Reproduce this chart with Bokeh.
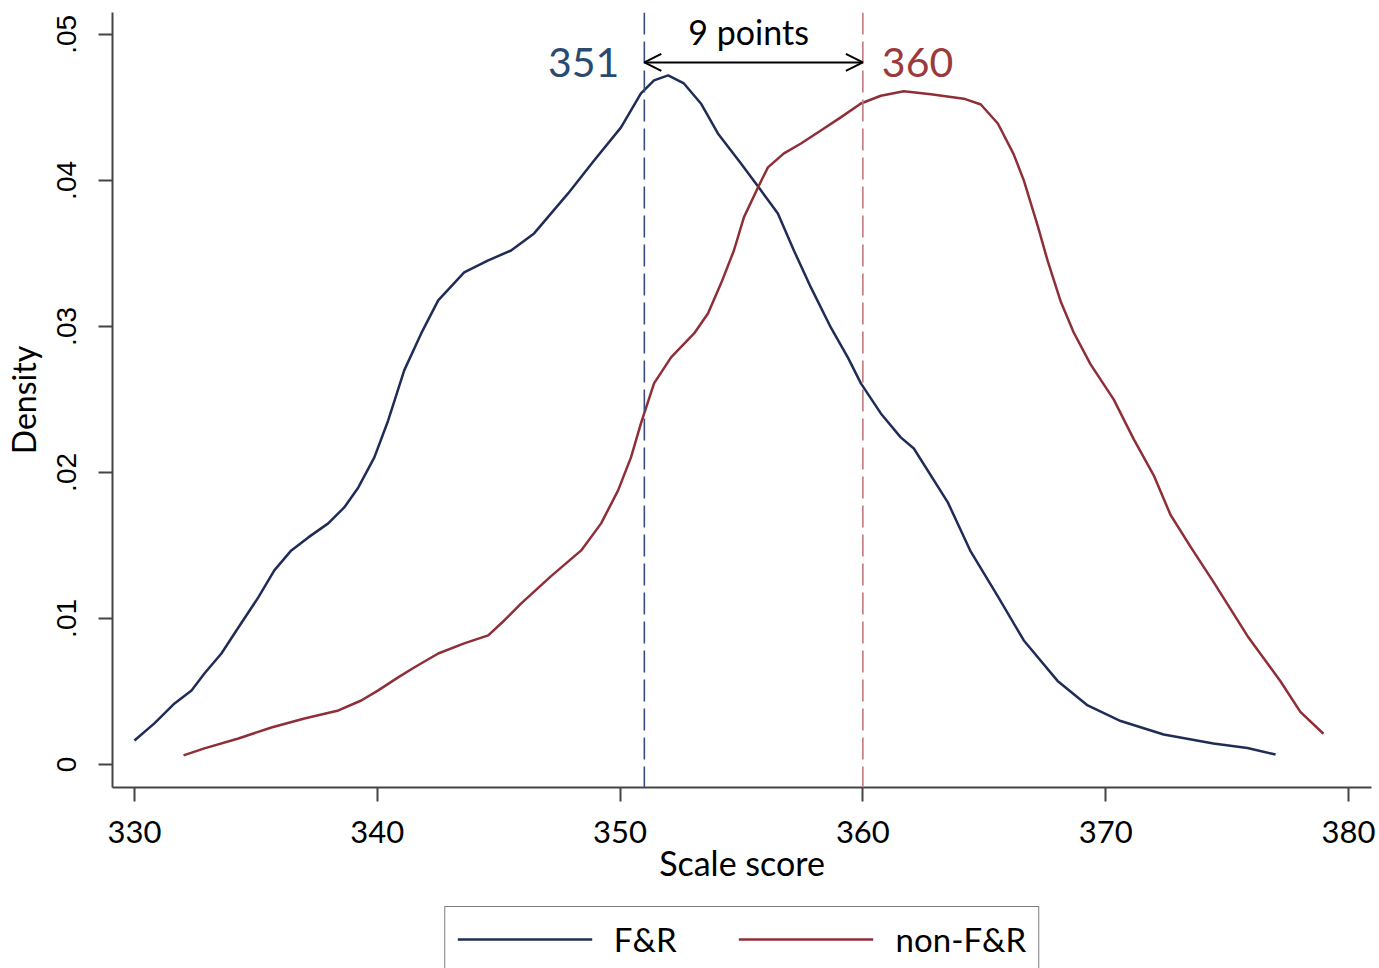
from bokeh.plotting import figure
from bokeh.layouts import column
from bokeh.models import (Range1d, Arrow, OpenHead, Span, Label, Legend, LegendItem,
                          FixedTicker, CustomJSTickFormatter)
from bokeh.embed import file_html
from bokeh.resources import INLINE

# Kernel density of scale scores, free & reduced lunch (F&R) students
fr_x = [330.0, 330.82, 331.65, 332.35, 332.88, 333.58, 334.28, 335.1, 335.76, 336.46,
        337.16, 337.98, 338.64, 339.22, 339.88, 340.45, 341.11, 341.81, 342.51, 343.58,
        344.57, 345.51, 346.46, 347.86, 348.93, 350.04, 350.86, 351.4, 351.98, 352.63,
        353.33, 354.03, 354.98, 355.8, 356.5, 357.16, 357.86, 358.68, 359.38, 359.92,
        360.74, 361.56, 362.1, 363.5, 364.44, 365.56, 366.63, 368.02, 369.26, 370.62,
        372.39, 374.44, 375.84, 377.0]
fr_y = [0.00164, 0.00281, 0.00418, 0.00507, 0.00623, 0.0076, 0.00938, 0.01144, 0.01329, 0.01466,
        0.01555, 0.01651, 0.0176, 0.01897, 0.02103, 0.02356, 0.02699, 0.02952, 0.03178, 0.0337,
        0.03452, 0.0352, 0.03637, 0.03911, 0.04137, 0.04363, 0.04596, 0.04685, 0.04719, 0.04664,
        0.04527, 0.04322, 0.04116, 0.03932, 0.03774, 0.0352, 0.03267, 0.02993, 0.02788, 0.0261,
        0.02404, 0.0224, 0.02164, 0.01795, 0.01459, 0.01151, 0.00849, 0.00572, 0.00404, 0.00297,
        0.00205, 0.00144, 0.00113, 0.00068]

# Kernel density of scale scores, all other students (non-F&R)
nfr_x = [332.02, 332.88, 334.28, 335.64, 337.0, 338.4, 339.34, 340.04, 340.86, 341.52,
         342.51, 343.58, 344.57, 345.23, 345.93, 347.16, 348.4, 349.22, 349.92, 350.45,
         350.86, 351.4, 352.1, 353.05, 353.62, 354.16, 354.69, 355.1, 355.68, 356.09,
         356.75, 357.45, 358.27, 359.09, 359.92, 360.74, 361.69, 362.8, 364.16, 364.86,
         365.56, 366.21, 366.63, 367.2, 367.61, 368.15, 368.68, 369.38, 370.33, 371.15,
         371.98, 372.67, 373.5, 374.44, 375.84, 377.2, 378.02, 378.97]
nfr_y = [0.00062, 0.0011, 0.00178, 0.00253, 0.00315, 0.0037, 0.00438, 0.00507, 0.00596, 0.00664,
         0.0076, 0.00829, 0.00884, 0.00986, 0.01103, 0.0129, 0.01466, 0.01651, 0.01877, 0.02103,
         0.02336, 0.0261, 0.02788, 0.02952, 0.03089, 0.03295, 0.0352, 0.03747, 0.03952, 0.04089,
         0.04185, 0.04253, 0.04342, 0.04432, 0.04527, 0.0458, 0.0461, 0.0459, 0.0456, 0.0452,
         0.0439, 0.0418, 0.0400, 0.0369, 0.0345, 0.0317, 0.0296, 0.0274, 0.025, 0.0223,
         0.0198, 0.0171, 0.0149, 0.0125, 0.0088, 0.0057, 0.0036, 0.0021]

group_names = ["F&R", "non-F&R"]
group_means = [351, 360]
x_ticks = [330, 340, 350, 360, 370, 380]
y_ticks = [0, 0.01, 0.02, 0.03, 0.04, 0.05]

curve_colors = ["#1f2d56", "#8e2f38"]
mean_line_colors = ["#3b4c80", "#c27a7e"]
mean_text_colors = ["#2b4a6f", "#9b3a3c"]
sans = "Lato"

p = figure(width=1379, height=905, output_backend="svg", toolbar_location=None,
           x_range=Range1d(329.095, 380.95), y_range=Range1d(-0.00158, 0.0515),
           min_border_left=111, min_border_right=8, min_border_top=12, min_border_bottom=118)
p.outline_line_color = None
p.grid.visible = False
p.background_fill_color = "white"
p.border_fill_color = "white"

p.line(fr_x, fr_y, line_color=curve_colors[0], line_width=2.5, line_join="round")
p.line(nfr_x, nfr_y, line_color=curve_colors[1], line_width=2.5, line_join="round")

# axes
for ax in (p.xaxis[0], p.yaxis[0]):
    ax.axis_line_color = "#444444"
    ax.axis_line_width = 2
    ax.major_tick_line_color = "#444444"
    ax.major_tick_line_width = 2
    ax.major_tick_out = 14
    ax.major_tick_in = 0
    ax.minor_tick_line_color = None
    ax.major_label_text_color = "black"
    ax.axis_label_text_color = "black"
    ax.axis_label_text_font_style = "normal"

p.xaxis.ticker = FixedTicker(ticks=x_ticks)
p.xaxis.major_label_text_font = sans
p.xaxis.major_label_text_font_size = "31px"
p.xaxis.major_label_standoff = 19
p.xaxis.axis_label = "Scale score"
p.xaxis.axis_label_text_font = sans
p.xaxis.axis_label_text_font_size = "34px"
p.xaxis.axis_label_standoff = -4

p.yaxis.ticker = FixedTicker(ticks=y_ticks)
p.yaxis.formatter = CustomJSTickFormatter(
    code="return tick == 0 ? '0' : tick.toFixed(2).replace(/^0/, '');")
p.yaxis.major_label_orientation = "vertical"
p.yaxis.major_label_text_font = "Liberation Sans"
p.yaxis.major_label_text_font_size = "28px"
p.yaxis.major_label_standoff = 22
p.yaxis.axis_label = "Density"
p.yaxis.axis_label_text_font = sans
p.yaxis.axis_label_text_font_size = "32px"
p.yaxis.axis_label_standoff = 12

# group means: dashed verticals and value labels
arrow_y = 0.04808
for i, m in enumerate(group_means):
    p.add_layout(Span(location=m, dimension="height", line_color=mean_line_colors[i],
                      line_width=1.6, line_dash="22 7"))
    p.add_layout(Label(x=m, y=arrow_y, text=str(m), x_offset=-25 if i == 0 else 19,
                       text_align="right" if i == 0 else "left", text_baseline="middle",
                       text_font=sans, text_font_size="41px",
                       text_color=mean_text_colors[i]))

# gap between the two means
p.add_layout(Arrow(start=OpenHead(size=17, line_width=2, line_color="black"),
                   end=OpenHead(size=17, line_width=2, line_color="black"),
                   x_start=group_means[0], x_end=group_means[1],
                   y_start=arrow_y, y_end=arrow_y, line_width=2, line_color="black"))
p.add_layout(Label(x=(group_means[0] + group_means[1]) / 2, y=0.0502, x_offset=-5,
                   text=f"{group_means[1] - group_means[0]} points",
                   text_align="center", text_baseline="middle",
                   text_font=sans, text_font_size="34px", text_color="black"))

# legend strip under the chart (its frame lines up with the chart's frame);
# the series sit outside this strip's ranges, only their legend swatches show
key = figure(width=1379, height=63, output_backend="svg", toolbar_location=None,
             x_range=Range1d(0, 1), y_range=Range1d(0, 1),
             x_axis_location=None, y_axis_location=None, min_border=0)
key.outline_line_color = None
key.grid.visible = False
key_fr = key.line(fr_x, fr_y, line_color=curve_colors[0], line_width=2.5)
key_nfr = key.line(nfr_x, nfr_y, line_color=curve_colors[1], line_width=2.5)
legend = Legend(items=[LegendItem(label=group_names[0], renderers=[key_fr]),
                       LegendItem(label=group_names[1], renderers=[key_nfr])],
                orientation="horizontal", location="top_center",
                label_text_font=sans, label_text_font_size="33px", label_text_color="black",
                glyph_width=135, glyph_height=30, label_standoff=22, spacing=62,
                padding=12, margin=1, border_line_color="black", border_line_width=1.5,
                background_fill_color="white", background_fill_alpha=1)
key.add_layout(legend)

open("out.html", "w").write(file_html(column(p, key, spacing=0), INLINE))
